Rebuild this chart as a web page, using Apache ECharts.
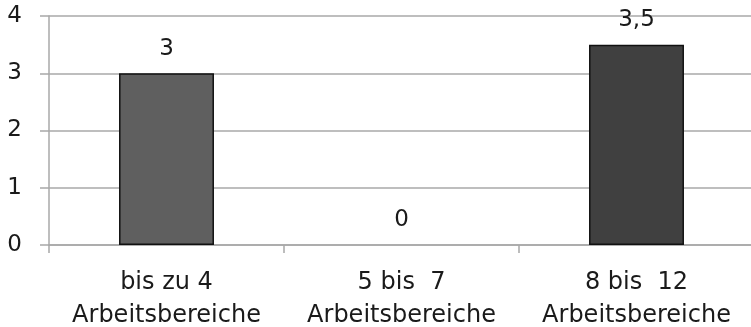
<!DOCTYPE html>
<html>
<head>
<meta charset="utf-8">
<style>
  html, body { margin: 0; padding: 0; background: #ffffff; }
  #chart { width: 751px; height: 327px; }
</style>
<script src="https://cdn.jsdelivr.net/npm/echarts@6/dist/echarts.min.js"></script>
</head>
<body>
<div id="chart"></div>
<script>
// Number of work areas per group
const categories = ['bis zu 4\nArbeitsbereiche', '5 bis  7\nArbeitsbereiche', '8 bis  12\nArbeitsbereiche'];
const values = [3, 0, 3.5];
const valueLabels = ['3', '0', '3,5'];
const barColors = ['#5f5f5f', '#5f5f5f', '#404040'];
const yTicks = [0, 1, 2, 3, 4];

const FONT = 'DejaVu Sans';
const TEXT = '#1a1a1a';
const LINE = '#a8a8a8';

const chart = echarts.init(document.getElementById('chart'), null, { renderer: 'canvas' });

chart.setOption({
  animation: false,
  backgroundColor: '#ffffff',
  grid: {
    left: 49, right: -3, top: 16, bottom: 82,
    containLabel: false,
    outerBoundsMode: 'none'
  },
  xAxis: {
    type: 'category',
    data: categories,
    boundaryGap: true,
    axisLine: { show: true, lineStyle: { color: LINE, width: 1.5 } },
    axisTick: { show: true, length: 8, alignWithLabel: false, lineStyle: { color: LINE, width: 1.5 } },
    axisLabel: {
      color: TEXT, fontFamily: FONT, fontSize: 24, lineHeight: 33,
      margin: 21, interval: 0, align: 'center'
    },
    splitLine: { show: false }
  },
  yAxis: {
    type: 'value',
    min: yTicks[0],
    max: yTicks[yTicks.length - 1],
    interval: 1,
    axisLine: { show: true, lineStyle: { color: LINE, width: 1.5 } },
    axisTick: { show: true, length: 9, lineStyle: { color: LINE, width: 1.5 } },
    axisLabel: { color: TEXT, fontFamily: FONT, fontSize: 23, margin: 27 },
    splitLine: { show: true, lineStyle: { color: LINE, width: 1.5 } }
  },
  series: [{
    type: 'bar',
    barWidth: '40.4%',
    data: values.map((v, i) => ({
      value: v,
      itemStyle: {
        color: barColors[i],
        borderColor: '#111111',
        // an empty bar keeps its label but draws no outline
        borderWidth: v === 0 ? 0 : 1.5
      },
      label: { formatter: valueLabels[i] }
    })),
    label: {
      show: true,
      position: 'top',
      distance: 13,
      color: TEXT,
      fontFamily: FONT,
      fontSize: 23
    }
  }]
});
</script>
</body>
</html>
